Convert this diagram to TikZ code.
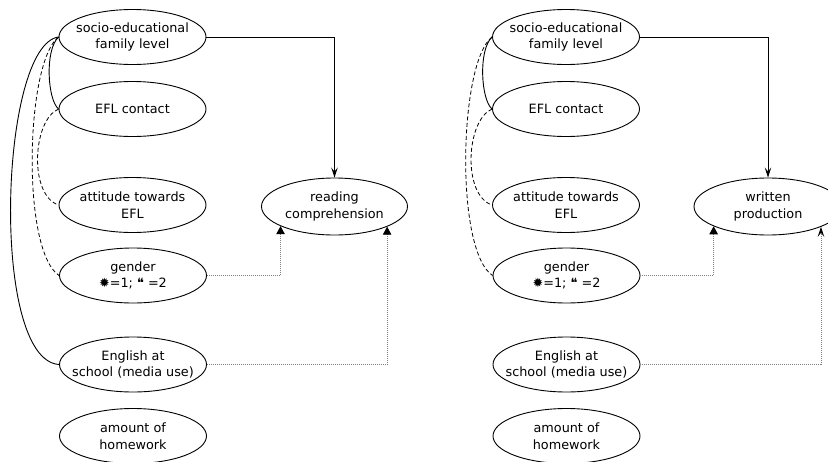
\documentclass[tikz,border=0pt]{standalone}
\usepackage{fontspec}
\setmainfont{DejaVu Sans}
\usetikzlibrary{shapes.geometric,arrows.meta}
\tikzset{
  var/.style={draw, ellipse, line width=0.9pt, minimum width=147pt, minimum height=55pt,
    inner xsep=-30pt, inner ysep=-10pt, align=center, font=\fontsize{12.8}{16.5}\selectfont},
  solidlink/.style={line width=0.9pt},
  dashlink/.style={line width=0.8pt, dash pattern=on 4pt off 2.5pt},
  dotlink/.style={line width=0.9pt, gray, dash pattern=on 1pt off 1pt},
  toparrow/.style={line width=0.9pt, -{Stealth[length=10pt,width=6.5pt,inset=4pt]}},
  trihead/.style={-{Triangle[length=8pt,width=8.5pt,black]}},
  stealthhead/.style={-{Stealth[length=10pt,width=6.5pt,inset=4pt,black]}}
}
\begin{document}
\begin{tikzpicture}[x=1pt,y=-1pt]
\useasboundingbox (0,0) rectangle (828,461);
% left panel
\node[var] (soc) at (132.5,37) {socio-educational\\family level};
\node[var] (efl) at (132.5,109) {EFL contact};
\node[var] (att) at (132.5,205) {attitude towards\\EFL};
\node[var] (gen) at (133,275.5) {gender\\✹=1; ❝ =2};
\node[var] (eng) at (133,364.5) {English at\\school (media use)};
\node[var] (hw) at (133,436) {amount of\\homework};
\node[var, minimum width=146pt, minimum height=57pt] (read) at (334.5,206.5) {reading\\comprehension};
% right panel
\node[var] (soc2) at (566,37) {socio-educational\\family level};
\node[var] (efl2) at (566,109) {EFL contact};
\node[var] (att2) at (566,205) {attitude towards\\EFL};
\node[var] (gen2) at (566.5,275.5) {gender\\✹=1; ❝ =2};
\node[var] (eng2) at (566.5,364.5) {English at\\school (media use)};
\node[var] (hw2) at (566.5,436) {amount of\\homework};
\node[var, minimum width=148pt, minimum height=57pt] (writ) at (768,206.5) {written\\production};
% left links
\draw[solidlink] (soc.west) .. controls +(-59,8) and +(-69.5,-4.5) .. (eng.west);
\draw[solidlink] (soc.west) .. controls +(-14,13) and +(-11,-9) .. (efl.west);
\draw[dashlink] (soc.west) .. controls +(-33,25) and +(-38,-25) .. (gen.west);
\draw[dashlink] (efl.west) .. controls +(-26,11) and +(-30,-10) .. (att.west);
\draw[toparrow] (soc.east) -| (read.north);
\draw[dotlink, trihead] (gen.east) -| (read.200.9);
\draw[dotlink, trihead] (eng.east) -| (read.339.1);
% right links
\draw[solidlink] (soc2.west) .. controls +(-14,13) and +(-11,-9) .. (efl2.west);
\draw[dashlink] (soc2.west) .. controls +(-33,25) and +(-38,-25) .. (gen2.west);
\draw[dashlink] (efl2.west) .. controls +(-26,11) and +(-30,-10) .. (att2.west);
\draw[toparrow] (soc2.east) -| (writ.north);
\draw[dotlink, trihead] (gen2.east) -| (writ.200.9);
\draw[dotlink, stealthhead] (eng2.east) -| (writ.339.5);
\end{tikzpicture}
\end{document}
